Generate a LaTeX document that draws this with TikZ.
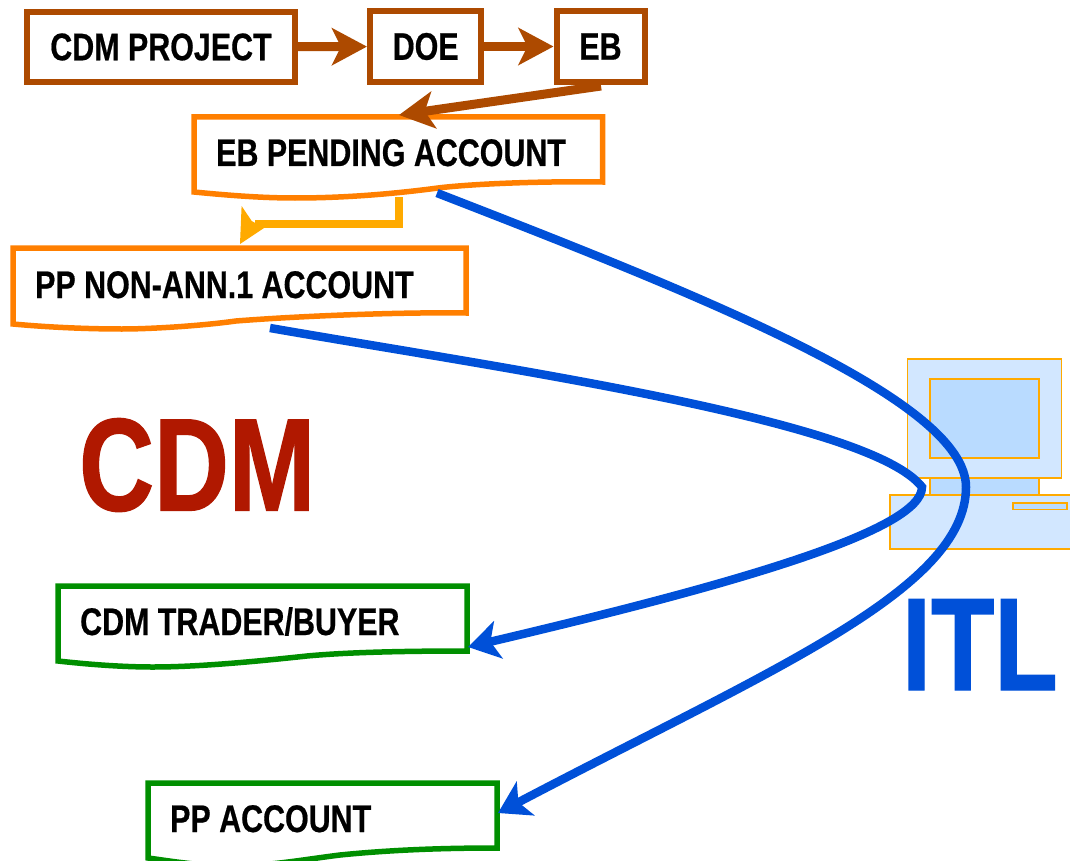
\documentclass[tikz,border=0pt]{standalone}
\usepackage{fontspec}
\setmainfont[FakeStretch=0.79,FakeBold=0.5]{Liberation Sans}
\newfontfamily\bigfont[FakeStretch=0.785,FakeBold=1]{Liberation Sans}
\usetikzlibrary{arrows.meta}
\definecolor{brownc}{HTML}{AD4A00}
\definecolor{orangec}{HTML}{FF7F00}
\definecolor{ambercc}{HTML}{FFAA00}
\definecolor{greenc}{HTML}{008F00}
\definecolor{bluec}{HTML}{0050D8}
\definecolor{redc}{HTML}{B01800}
\definecolor{pclight}{HTML}{D2E7FF}
\definecolor{pcdark}{HTML}{B9DBFF}
\tikzset{
  x=1pt,y=-1pt,
  lbl/.style={font=\fontsize{38.5}{40}\selectfont\bfseries,text=black,inner sep=0pt},
  lblw/.style={lbl,anchor=base west},
  topbox/.style={lbl,draw=brownc,line width=6pt,fill=white},
  flowarrow/.style={draw=brownc,line width=9pt,-{Stealth[length=35pt,width=37pt,inset=9pt,fill=brownc]}},
  orangebox/.style={draw=orangec,line width=5.5pt,fill=white,line join=miter},
  greenbox/.style={draw=greenc,line width=5.5pt,fill=white,line join=miter},
  bluearrow/.style={bluec,line width=8.5pt,-{Stealth[length=31pt,width=38pt,inset=8pt,fill=bluec]}},
  pcpart/.style={draw=ambercc,line width=1.8pt},
  bigtxt/.style={font=\fontsize{132}{132}\bigfont\bfseries,inner sep=0pt,anchor=base west},
}
\begin{document}
\begin{tikzpicture}
\useasboundingbox (0,0) rectangle (1070,861);
\clip (0,0) rectangle (1070,861);

% computer
\filldraw[pcpart,fill=pclight] (907.5,359) rectangle (1061.5,478);
\filldraw[pcpart,fill=pcdark] (930,379) rectangle (1039,458);
\filldraw[pcpart,fill=pcdark] (930,478) rectangle (1039,495);
\filldraw[pcpart,fill=pclight] (890,495) rectangle (1080,549);
\filldraw[pcpart,fill=pcdark] (1013,503) rectangle (1067,509.5);

% top row
\node[topbox,minimum width=268pt,minimum height=69.5pt] (project) at (161,47) {CDM PROJECT};
\node[topbox,minimum width=111.5pt,minimum height=71pt] (doe) at (425.7,46.5) {DOE};
\node[topbox,minimum width=88pt,minimum height=71pt] (eb) at (600.5,46.5) {EB};

% wavy account boxes
\filldraw[orangebox] (194,117) -- (602.5,117) -- (602.5,182)
  .. controls (540,181) and (470,184) .. (438,188)
  .. controls (400,193) and (350,198) .. (295,198)
  .. controls (260,198) and (225,195) .. (194,192) -- cycle;
\filldraw[orangebox] (13,248) -- (466,248) -- (466,313)
  .. controls (400,312) and (300,316) .. (236,321)
  .. controls (200,326) and (150,329) .. (122,329)
  .. controls (85,329) and (45,327) .. (13,324) -- cycle;
\filldraw[greenbox] (58,586) -- (467,586) -- (467,651)
  .. controls (410,651) and (350,652) .. (307,656)
  .. controls (260,661) and (200,667) .. (153,667)
  .. controls (120,667) and (85,664) .. (58,661) -- cycle;
\filldraw[greenbox] (148,783) -- (497,783) -- (497,848)
  .. controls (440,848) and (390,850) .. (340,855)
  .. controls (300,860) and (270,866) .. (230,866)
  .. controls (200,866) and (170,861) .. (148,858) -- cycle;

\node[lblw] (pending) at (216,166) {EB PENDING ACCOUNT};
\node[lblw] (nonann) at (35,298) {PP NON-ANN.1 ACCOUNT};
\node[lblw] (trader) at (80,635) {CDM TRADER/BUYER};
\node[lblw] (ppacc) at (170,832) {PP ACCOUNT};

\node[bigtxt,text=redc] (cdm) at (79,510.5) {CDM};
\node[bigtxt,text=bluec] (itl) at (902,690) {ITL};

% connector ends
\coordinate (pendingIn) at (399,115);
\coordinate (ebOut) at (601,86);
\coordinate (pendingDown) at (398.5,197);
\coordinate (bend) at (398.5,224);
\coordinate (nonannIn) at (240,244);
\coordinate (pendingOut) at (437,193);
\coordinate (nonannOut) at (270,328);
\coordinate (traderIn) at (468,647);
\coordinate (ppIn) at (498,813);
\coordinate (turnA) at (966,487);
\coordinate (turnB) at (922,487);

% brown arrows
\draw[flowarrow] (project) -- (doe);
\draw[flowarrow] (doe) -- (eb);
\draw[flowarrow] (ebOut) -- (pendingIn);

% amber arrow
\draw[ambercc,line width=8pt,line join=miter] (pendingDown) -- (bend) -- (255,224);
\fill[ambercc] (nonannIn) -- (241.6,206) -- (251.7,221) -- (264,228) -- cycle;

% blue connectors
\draw[bluearrow] (pendingOut)
  .. controls (700,295) and (966,400) .. (turnA)
  .. controls (966,590) and (770,670) .. (ppIn);
\draw[bluearrow] (nonannOut)
  .. controls (500,368) and (870,420) .. (turnB)
  .. controls (922,530) and (740,583) .. (traderIn);
\end{tikzpicture}
\end{document}
